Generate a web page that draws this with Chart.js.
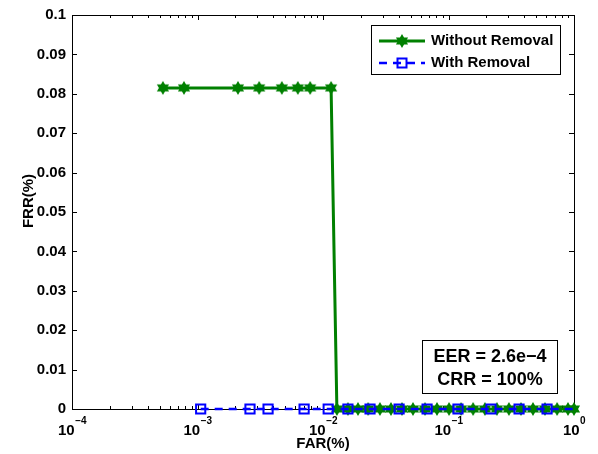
<!DOCTYPE html>
<html>
<head>
<meta charset="utf-8">
<script src="https://cdn.jsdelivr.net/npm/chart.js@4.4.1/dist/chart.umd.min.js"></script>
<style>
  html, body { margin: 0; padding: 0; background: #fff; }
  canvas { display: block; }
</style>
</head>
<body>
<canvas id="detChart" width="598" height="454"></canvas>
<script>
// values (FAR on a log axis, FRR linear)
const withoutFar = [5.3e-4, 7.8e-4, 2.1e-3, 3.1e-3, 4.7e-3, 6.3e-3, 7.9e-3, 0.0116,
  0.0129, 0.0158, 0.019, 0.0229, 0.0284, 0.0348, 0.0426, 0.0521, 0.065, 0.0809,
  0.101, 0.126, 0.157, 0.195, 0.243, 0.303, 0.378, 0.471, 0.587, 0.733, 0.895, 1.0];
const withoutFrr = [0.0815, 0.0815, 0.0815, 0.0815, 0.0815, 0.0815, 0.0815, 0.0815,
  0, 0, 0, 0, 0, 0, 0, 0, 0, 0, 0, 0, 0, 0, 0, 0, 0, 0, 0, 0, 0, 0];
const withFar = [1.06e-3, 2.62e-3, 3.65e-3, 7.07e-3, 0.011, 0.0158, 0.0237, 0.0404,
  0.0675, 0.119, 0.218, 0.365, 0.61, 0.99];
const withFrr = [0, 0, 0, 0, 0, 0, 0, 0, 0, 0, 0, 0, 0, 0];
const xTickExps = [-4, -3, -2, -1, 0];
const legendLabels = ["Without Removal", "With Removal"];
const statLines = ["EER = 2.6e\u22124", "CRR = 100%"];

const FONT = "'Liberation Sans', Arial, Helvetica, sans-serif";
const GREEN = "#008000";
const BLUE = "#0000ff";

function hexagram(color, R) {
  const c = document.createElement("canvas");
  const s = Math.ceil(R * 2 + 2);
  c.width = c.height = s;
  const g = c.getContext("2d");
  g.fillStyle = color;
  g.beginPath();
  for (let k = 0; k < 12; k++) {
    const r = k % 2 === 0 ? R : R * 0.58;
    const a = -Math.PI / 2 + k * Math.PI / 6;
    g.lineTo(s / 2 + r * Math.cos(a), s / 2 + r * Math.sin(a));
  }
  g.closePath();
  g.fill();
  return c;
}
const star = hexagram(GREEN, 7);

const boxPlugin = {
  id: "matlabBox",
  beforeDatasetsDraw(chart) {
    const { ctx, chartArea: a, scales } = chart;
    ctx.save();
    ctx.strokeStyle = "#000";
    ctx.lineWidth = 1;
    ctx.strokeRect(a.left + 0.5, a.top + 0.5, a.right - a.left, a.bottom - a.top);
    ctx.beginPath();
    // y ticks, inward on both sides
    scales.y.ticks.forEach(t => {
      const py = Math.round(scales.y.getPixelForValue(t.value)) + 0.5;
      ctx.moveTo(a.left, py); ctx.lineTo(a.left + 5, py);
      ctx.moveTo(a.right, py); ctx.lineTo(a.right - 5, py);
    });
    // x major + minor ticks, inward top and bottom
    xTickExps.forEach((e, i) => {
      const v = Math.pow(10, e);
      const px = Math.round(scales.x.getPixelForValue(v)) + 0.5;
      ctx.moveTo(px, a.bottom); ctx.lineTo(px, a.bottom - 5);
      ctx.moveTo(px, a.top); ctx.lineTo(px, a.top + 5);
      if (i < xTickExps.length - 1) {
        for (let k = 2; k <= 9; k++) {
          const mx = Math.round(scales.x.getPixelForValue(k * v)) + 0.5;
          ctx.moveTo(mx, a.bottom); ctx.lineTo(mx, a.bottom - 3);
          ctx.moveTo(mx, a.top); ctx.lineTo(mx, a.top + 3);
        }
      }
    });
    ctx.stroke();
    ctx.restore();
  },
  afterDraw(chart) {
    const { ctx, scales } = chart;
    ctx.save();
    ctx.fillStyle = "#000";

    // x tick labels 10^e
    xTickExps.forEach(e => {
      const px = scales.x.getPixelForValue(Math.pow(10, e));
      const exp = e < 0 ? "\u2212" + (-e) : String(e);
      ctx.font = "bold 15px " + FONT;
      const wb = ctx.measureText("10").width;
      ctx.font = "bold 10px " + FONT;
      const we = ctx.measureText(exp).width;
      const x0 = px - (wb + we) / 2;
      ctx.textAlign = "left";
      ctx.textBaseline = "alphabetic";
      ctx.font = "bold 15px " + FONT;
      ctx.fillText("10", x0, 435);
      ctx.font = "bold 10px " + FONT;
      ctx.fillText(exp, x0 + wb + 0.5, 423.5);
    });

    // y title
    ctx.save();
    ctx.translate(29, 201);
    ctx.rotate(-Math.PI / 2);
    ctx.font = "bold 15px " + FONT;
    ctx.textAlign = "center";
    ctx.textBaseline = "middle";
    ctx.fillText("FRR(%)", 0, 0);
    ctx.restore();

    // legend
    ctx.fillStyle = "#fff";
    ctx.fillRect(371, 25, 189, 49);
    ctx.strokeStyle = "#000";
    ctx.lineWidth = 1;
    ctx.strokeRect(371.5, 25.5, 189, 49);
    ctx.strokeStyle = GREEN;
    ctx.lineWidth = 3;
    ctx.beginPath(); ctx.moveTo(379, 41); ctx.lineTo(425, 41); ctx.stroke();
    ctx.drawImage(star, 402 - star.width / 2, 41 - star.height / 2);
    ctx.strokeStyle = BLUE;
    ctx.lineWidth = 2.5;
    ctx.setLineDash([8, 6]);
    ctx.beginPath(); ctx.moveTo(379, 63); ctx.lineTo(425, 63); ctx.stroke();
    ctx.setLineDash([]);
    ctx.lineWidth = 2;
    ctx.strokeRect(397.5, 58.5, 9, 9);
    ctx.fillStyle = "#000";
    ctx.font = "bold 15px " + FONT;
    ctx.textAlign = "left";
    ctx.textBaseline = "middle";
    ctx.fillText(legendLabels[0], 431, 41);
    ctx.fillText(legendLabels[1], 431, 63);

    // stats box
    ctx.fillStyle = "#fff";
    ctx.fillRect(422, 340, 135, 53);
    ctx.strokeStyle = "#000";
    ctx.lineWidth = 1;
    ctx.strokeRect(422.5, 340.5, 135, 53);
    ctx.fillStyle = "#000";
    ctx.font = "bold 18px " + FONT;
    ctx.textAlign = "center";
    ctx.fillText(statLines[0], 490, 357);
    ctx.fillText(statLines[1], 490, 380);
    ctx.restore();
  }
};

new Chart(document.getElementById("detChart"), {
  type: "line",
  data: {
    datasets: [{
      label: legendLabels[1],
      data: withFar.map((x, i) => ({ x, y: withFrr[i] })),
      borderColor: BLUE,
      borderWidth: 2.5,
      borderDash: [8, 6],
      pointStyle: "rect",
      pointRadius: withFar.map((x, i) => i === withFar.length - 1 ? 0 : 6.5),
      pointBorderColor: BLUE,
      pointBorderWidth: 2,
      pointBackgroundColor: "rgba(0,0,0,0)",
      tension: 0,
      clip: false,
      order: 1
    }, {
      label: legendLabels[0],
      data: withoutFar.map((x, i) => ({ x, y: withoutFrr[i] })),
      borderColor: GREEN,
      borderWidth: 3,
      pointStyle: star,
      pointRadius: 7,
      tension: 0,
      clip: false,
      order: 2
    }]
  },
  options: {
    responsive: false,
    animation: false,
    devicePixelRatio: 1,
    layout: { padding: { left: 0, right: 24, top: 14, bottom: 0 } },
    plugins: { legend: { display: false }, tooltip: { enabled: false } },
    scales: {
      x: {
        type: "logarithmic",
        min: 1e-4,
        max: 1,
        ticks: { display: false },
        grid: { display: false },
        border: { display: false },
        title: {
          display: true, text: "FAR(%)", color: "#000",
          font: { family: FONT, size: 15, weight: "bold" },
          padding: { top: 0, bottom: 1 }
        },
        afterFit: s => { s.height = 45; }
      },
      y: {
        min: 0,
        max: 0.1,
        ticks: {
          stepSize: 0.01, color: "#000", padding: 6,
          font: { family: FONT, size: 15, weight: "bold" },
          callback: v => String(+v.toFixed(2))
        },
        grid: { display: false, drawTicks: false },
        border: { display: false },
        afterFit: s => { s.width = 72; }
      }
    }
  },
  plugins: [boxPlugin]
});
</script>
</body>
</html>
